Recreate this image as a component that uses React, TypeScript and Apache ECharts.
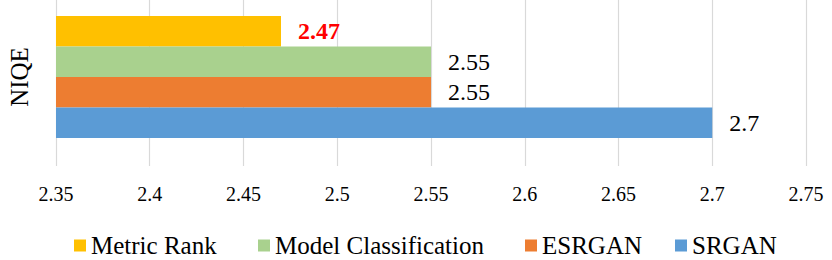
import React, { useEffect, useRef } from "react";
import * as echarts from "echarts";

const categories = ["NIQE"];
const seriesNames = ["Metric Rank", "Model Classification", "ESRGAN", "SRGAN"];
const metricRankValues = [2.47];
const modelClassificationValues = [2.55];
const esrganValues = [2.55];
const srganValues = [2.7];
const legendOrder = ["Metric Rank", "Model Classification", "ESRGAN", "SRGAN"];
const axisMin = 2.35;
const axisMax = 2.75;
const axisInterval = 0.05;

const colors: Record<string, string> = {
  SRGAN: "#5B9BD5",
  ESRGAN: "#ED7D31",
  "Model Classification": "#A9D18E",
  "Metric Rank": "#FFC000",
};

const legendLeft = [74, 258, 525, 675];

const FONT = "Liberation Serif";

export default function App() {
  const ref = useRef<HTMLDivElement>(null);
  useEffect(() => {
    if (!ref.current) return;
    const chart = echarts.init(ref.current, undefined, { renderer: "svg" });
    const valuesList = [metricRankValues, modelClassificationValues, esrganValues, srganValues];
    const series = seriesNames.map((name, i) => {
      const highlight = name === "Metric Rank";
      return {
        name,
        type: "bar",
        xAxisIndex: 1,
        yAxisIndex: 1,
        data: valuesList[i],
        barWidth: 30.5,
        barGap: "0%",
        itemStyle: { color: colors[name] },
        label: {
          show: true,
          position: "right",
          distance: 17,
          fontFamily: FONT,
          fontSize: 24,
          color: highlight ? "#FF0000" : "#000000",
          fontWeight: highlight ? "bold" : "normal",
        },
      };
    });
    const legends = legendOrder.map((name, i) => ({
      data: [name],
      left: legendLeft[i],
      top: 233,
      itemWidth: 12,
      itemHeight: 12,
      itemTextGap: 6,
      icon: "rect",
      textStyle: { fontFamily: FONT, fontSize: 25, color: "#000" },
      padding: 0,
    }));
    chart.setOption({
      animation: false,
      textStyle: { fontFamily: FONT },
      grid: [
        { left: 56, right: 26, top: 0, bottom: 94, containLabel: false },
        { left: 56, right: 26, top: 0, bottom: 106, containLabel: false },
      ],
      legend: legends,
      xAxis: [
        {
          type: "value",
          gridIndex: 0,
          min: axisMin,
          max: axisMax,
          interval: axisInterval,
          axisLine: { show: false },
          axisTick: { show: false },
          splitLine: { lineStyle: { color: "#D9D9D9", width: 1.2 } },
          axisLabel: { fontFamily: FONT, fontSize: 20, color: "#000", margin: 18 },
        },
        {
          type: "value",
          gridIndex: 1,
          min: axisMin,
          max: axisMax,
          interval: axisInterval,
          show: false,
          splitLine: { show: false },
        },
      ],
      yAxis: [
        {
          type: "category",
          gridIndex: 0,
          data: categories,
          show: false,
        },
        {
          type: "category",
          gridIndex: 1,
          data: categories,
          axisLine: { show: false },
          axisTick: { show: false },
          axisLabel: {
            rotate: 90,
            fontFamily: FONT,
            fontSize: 25,
            color: "#000",
            margin: 24,
          },
        },
      ],
      series,
    });
    return () => chart.dispose();
  }, []);
  return (
    <div
      ref={ref}
      style={{ position: "fixed", left: 0, top: 0, width: 832, height: 260, background: "#fff" }}
    />
  );
}
